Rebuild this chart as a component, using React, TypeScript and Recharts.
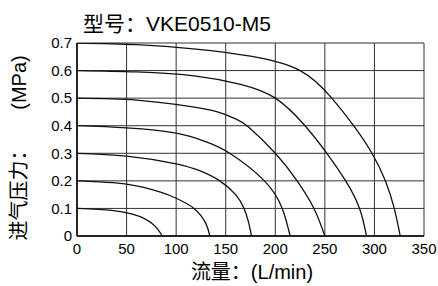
import React from 'react';
import { LineChart, Line, XAxis, YAxis, CartesianGrid, Customized } from 'recharts';

const titleText = '型号：VKE0510-M5';
const xAxisTitle = '流量：(L/min)';
const yAxisTitleMain = '进气压力：';
const yAxisTitleUnit = '(MPa)';

const xTicks = [0, 50, 100, 150, 200, 250, 300, 350];
const yTicks = [0, 0.1, 0.2, 0.3, 0.4, 0.5, 0.6, 0.7];

const curve07 = [
  { q: 0, p: 0.7 }, { q: 60, p: 0.694 }, { q: 120, p: 0.678 }, { q: 175, p: 0.652 },
  { q: 225, p: 0.6 }, { q: 257, p: 0.5 }, { q: 279, p: 0.4 }, { q: 297.5, p: 0.3 },
  { q: 311, p: 0.2 }, { q: 320, p: 0.1 }, { q: 326, p: 0 },
];
const curve06 = [
  { q: 0, p: 0.6 }, { q: 60, p: 0.595 }, { q: 120, p: 0.58 }, { q: 165, p: 0.55 },
  { q: 200, p: 0.5 }, { q: 230, p: 0.4 }, { q: 252, p: 0.3 }, { q: 271, p: 0.2 },
  { q: 285, p: 0.1 }, { q: 292, p: 0 },
];
const curve05 = [
  { q: 0, p: 0.5 }, { q: 60, p: 0.493 }, { q: 110, p: 0.472 }, { q: 140, p: 0.452 },
  { q: 160, p: 0.425 }, { q: 173, p: 0.395 }, { q: 200, p: 0.3 }, { q: 222, p: 0.2 },
  { q: 239, p: 0.1 }, { q: 250, p: 0 },
];
const curve04 = [
  { q: 0, p: 0.4 }, { q: 50, p: 0.392 }, { q: 100, p: 0.373 }, { q: 130, p: 0.342 },
  { q: 154, p: 0.3 }, { q: 189, p: 0.2 }, { q: 207, p: 0.1 }, { q: 215, p: 0 },
];
const curve03 = [
  { q: 0, p: 0.3 }, { q: 50, p: 0.29 }, { q: 100, p: 0.262 }, { q: 125, p: 0.235 },
  { q: 144, p: 0.2 }, { q: 160, p: 0.15 }, { q: 168.5, p: 0.1 }, { q: 173, p: 0.05 },
  { q: 176, p: 0 },
];
const curve02 = [
  { q: 0, p: 0.2 }, { q: 50, p: 0.188 }, { q: 85, p: 0.158 }, { q: 100, p: 0.137 },
  { q: 118, p: 0.1 }, { q: 130, p: 0.045 }, { q: 134, p: 0 },
];
const curve01 = [
  { q: 0, p: 0.1 }, { q: 35, p: 0.093 }, { q: 55, p: 0.08 }, { q: 68, p: 0.063 },
  { q: 79, p: 0.035 }, { q: 86, p: 0 },
];

const curves = [curve07, curve06, curve05, curve04, curve03, curve02, curve01];

const FONT = '"Liberation Sans", Arial, "Noto Sans CJK SC", sans-serif';

const Titles = () => (
  <g fontFamily={FONT} fill="#000">
    <text x={83} y={31} fontSize={21}>{titleText}</text>
    <text x={252} y={279} fontSize={20} textAnchor="middle">{xAxisTitle}</text>
    <text transform="translate(26,190.5) rotate(-90)" fontSize={20} textAnchor="middle">{yAxisTitleMain}</text>
    <text transform="translate(26,82.5) rotate(-90)" fontSize={20} textAnchor="middle">{yAxisTitleUnit}</text>
  </g>
);

export default function App() {
  return (
    <div style={{ position: 'absolute', left: 0, top: 0, width: 438, height: 286, background: '#fff' }}>
      <LineChart
        width={438}
        height={286}
        margin={{ top: 43, right: 14, bottom: 20, left: 0 }}
        style={{ fontFamily: FONT }}
      >
        <CartesianGrid stroke="#333" strokeWidth={1} />
        <XAxis
          type="number"
          dataKey="q"
          domain={[0, 350]}
          ticks={xTicks}
          height={30}
          tickSize={0}
          tickMargin={7}
          axisLine={{ stroke: '#000', strokeWidth: 1.5 }}
          tick={{ fill: '#000', fontSize: 15 }}
          allowDataOverflow
        />
        <YAxis
          type="number"
          dataKey="p"
          domain={[0, 0.7]}
          ticks={yTicks}
          width={77}
          tickSize={0}
          tickMargin={5}
          axisLine={{ stroke: '#000', strokeWidth: 1.5 }}
          tick={{ fill: '#000', fontSize: 15 }}
          tickFormatter={(v: number) => (v === 0 ? '0' : v.toFixed(1))}
          allowDataOverflow
        />
        {curves.map((d, i) => (
          <Line
            key={i}
            data={d}
            dataKey="p"
            type="natural"
            stroke="#111"
            strokeWidth={1.3}
            dot={false}
            isAnimationActive={false}
          />
        ))}
        <Customized component={<Titles />} />
      </LineChart>
    </div>
  );
}
